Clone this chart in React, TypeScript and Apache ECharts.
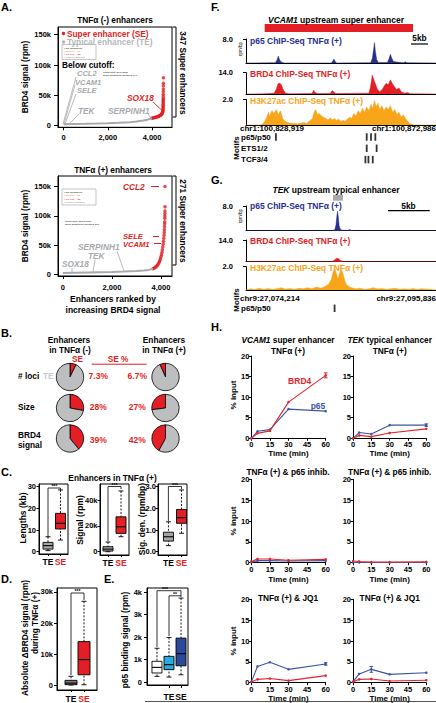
import React, { useEffect, useRef } from 'react';
import * as echarts from 'echarts';

const FONT = '"Liberation Sans", Arial, Helvetica, sans-serif';
const RED = '#e31e24';
const LIGHTGRAY = '#a7a9ac';
const PIEGRAY = '#bcbec0';
const TRACK_BLUE = '#262f8f';
const ORANGE = '#f9a51a';
const H_RED = '#e4232b';
const H_BLUE = '#3a55a4';
const E_LIGHT = '#29abe2';
const E_DARK = '#2b4a9b';

// ---------- Panel A : ranked enhancers ----------
const rankTicks = [0, 2000, 4000];
const brd4Ticks = [0, 50000, 100000, 150000];
const a1TypicalCurve = [[0, 2600], [500, 2900], [1000, 3200], [1500, 3600], [2000, 4100], [2500, 4800], [3000, 5900], [3300, 7000], [3600, 8500], [3800, 10000], [3985, 12400]];
const a1SuperPoints = [[3985, 12400], [4030, 12700], [4075, 13000], [4120, 13400], [4160, 13800], [4200, 14200], [4240, 14700], [4275, 15200], [4310, 15800], [4340, 16400], [4370, 17100], [4400, 17900], [4425, 18800], [4445, 19800], [4460, 21000], [4472, 22300], [4482, 23800], [4489, 25500], [4494, 27300], [4497, 29200], [4499, 31200], [4500, 33300], [4501, 35500], [4502, 37800], [4503, 40200], [4504, 42600], [4505, 45000], [4506, 48000], [4507, 52000], [4508, 56500], [4509, 60500], [4510, 66000], [4511, 70000], [4512, 79000]];
const a2TypicalCurve = [[0, 2800], [500, 3300], [1000, 3800], [1500, 4300], [2000, 4800], [2500, 5400], [3000, 6300], [3300, 7200], [3500, 8200], [3674, 10000]];
const a2SuperPoints = [[3674, 10000], [3715, 11000], [3756, 12200], [3797, 13600], [3838, 15300], [3870, 17000], [3900, 19000], [3930, 21500], [3955, 24000], [3978, 27000], [4000, 30500], [4020, 34000], [4040, 38000], [4058, 42500], [4075, 47000], [4090, 52000], [4103, 57000], [4114, 62000], [4124, 67000], [4132, 72000], [4139, 77000], [4145, 82000], [4150, 86500], [4154, 90000], [4157, 96000], [4159, 100000], [4161, 104000], [4162, 108500], [4163, 115500], [4164, 150000]];

// ---------- Panel B : pies ----------
const pieRowY = [377, 408, 438.5];
const sePctMinus = [7.3, 28, 39];
const sePctPlus = [6.7, 27, 42];

// ---------- Panel C / D / E : box plots [min, q1, median, q3, max] ----------
const teSe = ['TE', 'SE'];
const lengthStats = [[0.5, 1.2, 2.8, 4.3, 6.9], [5.4, 10.5, 13.1, 17.7, 28.5]];
const signalStats = [[0, 500, 2000, 3900, 7500], [11600, 14200, 19300, 27000, 47000]];
const densityStats = [[0.28, 0.49, 0.69, 0.9, 1.38], [0.85, 1.31, 1.57, 1.95, 2.85]];
const deltaStats = [[0, 100, 600, 1500, 2800], [100, 3300, 8200, 14000, 27000]];
const p65Cats = ['TSS', 'TE', 'SE'];
const p65Stats = [[250, 400, 650, 920, 1500], [220, 550, 770, 1140, 1980], [320, 720, 1260, 1950, 3730]];

// ---------- Panel F / G : tracks [kb, signal] ----------
const fRegionKb = 44.07;
const gRegionKb = 21.62;
const fP65 = [[0, 0], [6.8, 0.1], [7.2, 1.0], [7.5, 2.3], [7.8, 1.0], [8.3, 0.2], [9, 0], [19.8, 0], [20.1, 0.6], [20.4, 1.3], [20.7, 0.5], [21, 0], [28.9, 0.1], [29.3, 1.5], [29.6, 4.5], [29.8, 6.8], [30.0, 4.0], [30.3, 1.2], [30.7, 0.2], [32.8, 0.2], [33.2, 1.5], [33.5, 2.9], [33.8, 1.6], [34.2, 0.5], [35, 0.3], [36.5, 0.1], [37, 0.4], [37.3, 0.1], [44.07, 0]];
const fBrd4 = [[0, 0], [4, 0.1], [6.5, 0.5], [7, 3], [7.4, 6.5], [7.8, 7.2], [8.2, 6], [8.6, 3], [9.2, 0.5], [10, 0.2], [15.3, 0.3], [15.7, 2.5], [16, 1], [16.5, 0.3], [19.5, 0.3], [20, 2.3], [20.3, 1.5], [20.8, 0.3], [28.5, 0.5], [28.9, 5], [29.3, 12.5], [29.7, 9], [30.1, 6], [30.5, 3], [31, 1.5], [31.6, 3], [32, 5], [32.5, 7], [33, 6], [33.5, 9.3], [33.9, 7], [34.4, 5], [34.9, 3], [35.5, 4], [36, 1.5], [36.8, 0.5], [37.5, 1], [38, 0.2], [44.07, 0]];
const fH3k27ac = [[0, 0], [3.5, 0], [4.2, 0.2], [4.8, 0.6], [5.2, 1.0], [5.5, 0.7], [6, 1.1], [6.5, 0.9], [7, 1.2], [7.5, 0.8], [8, 1.1], [8.5, 0.5], [9, 0.3], [10, 0.15], [12, 0.1], [13.5, 0.2], [14, 0.1], [15.4, 0.5], [15.8, 1.0], [16.2, 1.2], [16.6, 0.8], [17, 0.9], [17.5, 0.7], [18, 0.6], [18.5, 0.5], [19, 0.4], [19.6, 0.55], [20, 0.4], [20.6, 0.5], [21, 0.35], [21.5, 0.45], [22, 0.3], [22.5, 0.35], [23, 0.3], [23.5, 0.45], [24, 0.6], [24.5, 0.5], [25, 0.9], [25.5, 0.7], [26, 1.1], [26.5, 0.9], [27, 1.3], [27.5, 1.0], [28, 1.4], [28.5, 1.1], [29, 1.6], [29.4, 1.3], [29.8, 1.9], [30.2, 1.4], [30.6, 1.7], [31, 1.2], [31.5, 1.5], [32, 1.1], [32.5, 1.4], [33, 1.2], [33.5, 1.5], [34, 1.0], [34.5, 1.2], [35, 0.8], [35.5, 1.0], [36, 0.6], [36.5, 0.8], [37, 0.5], [37.5, 0.3], [38, 0.1], [39, 0], [44.07, 0]];
const fMotifSites = [[6.94, 0], [28.0, 0], [29.0, 0], [30.0, 0], [28.0, 1], [30.3, 1], [27.7, 2], [28.4, 2], [29.4, 2]];
const gP65 = [[0, 0], [9.8, 0], [10.1, 0.3], [10.25, 2.0], [10.35, 5.0], [10.42, 6.3], [10.5, 4.5], [10.6, 1.5], [10.75, 0.4], [11, 0.15], [11.6, 0.1], [11.8, 0.4], [12, 0.1], [12.5, 0], [21.62, 0]];
const gBrd4 = [[0, 0], [9.6, 0], [9.9, 0.3], [10.1, 1.2], [10.3, 2.3], [10.5, 2.0], [10.7, 1.0], [11, 0.3], [11.4, 0], [21.62, 0]];
const gH3k27ac = [[0, 0], [0.5, 0.1], [1, 0.05], [1.5, 0.15], [2, 0.05], [2.5, 0.12], [3, 0.05], [3.5, 0.1], [4, 0.2], [4.5, 0.08], [5, 0.12], [5.5, 0.05], [6, 0.15], [6.5, 0.1], [7, 0.2], [7.5, 0.1], [8, 0.25], [8.5, 0.15], [9, 0.3], [9.4, 0.5], [9.7, 0.9], [9.9, 1.5], [10.1, 1.85], [10.3, 1.4], [10.45, 0.9], [10.6, 1.3], [10.8, 1.75], [11, 1.5], [11.2, 0.9], [11.4, 0.5], [11.7, 0.3], [12, 0.2], [12.5, 0.1], [13, 0.15], [13.5, 0.05], [14, 0.1], [14.5, 0.2], [15, 0.08], [15.5, 0.12], [16, 0.05], [16.5, 0.1], [17, 0.15], [17.5, 0.05], [18, 0.1], [18.5, 0.05], [19, 0.12], [19.5, 0.05], [20, 0.1], [21, 0.05], [21.62, 0]];
const gMotifSites = [[10.08, 0]];

// ---------- Panel H : ChIP-qPCR time courses (% input) ----------
const hTime = [0, 5, 15, 30, 60];
const timeTicks = [0, 15, 30, 45, 60];
const inputTicks = [0, 5, 10, 15, 20];
const vcamBrd4 = [0, 1.2, 1.8, 8.8, 15.3];
const vcamP65 = [0, 1.7, 2.1, 7.1, 6.6];
const tekBrd4 = [0, 0.7, 0.4, 1.3, 2.3];
const tekP65 = [0, 1.4, 1.05, 3.2, 3.2];
const vcamBrd4Inh = [0.3, 0.9, 0.9, 0.6, 0.8];
const vcamP65Inh = [0.1, 0.5, 0.5, 0.4, 0.5];
const tekBrd4Inh = [0.4, 0.3, 0.15, 0.15, 0.2];
const tekP65Inh = [0.05, 0.05, 0.05, 0.05, 0.05];
const vcamBrd4Jq1 = [0.2, 0.8, 1.0, 0.5, 1.7];
const vcamP65Jq1 = [0.2, 3.9, 4.9, 3.2, 4.5];
const tekBrd4Jq1 = [0.2, 0.8, 0.9, 0.4, 0.6];
const tekP65Jq1 = [0.2, 2.1, 3.2, 2.0, 2.4];
const vcamBrd4Err = [[60, 14.7, 15.9]];
const tekP65Err = [[60, 2.9, 3.5]];
const vcamP65Jq1Err = [[60, 4.2, 4.8]];
const tekP65Jq1Err = [[15, 2.5, 3.9]];

// ---------- helpers ----------
type TO = { size?: number; color?: string; align?: string; rot?: number; italic?: boolean; weight?: string; rich?: boolean };
function T(x: number, y: number, text: string, o: TO = {}) {
  const size = o.size ?? 8.3;
  const color = o.color ?? '#000';
  const align = o.align ?? 'left';
  const weight = o.weight ?? 'bold';
  const fstyle = o.italic ? 'italic' : 'normal';
  const style: any = {
    text, fill: color, fontSize: size, fontFamily: FONT, fontWeight: weight, fontStyle: fstyle,
    font: `${fstyle} ${weight} ${size}px ${FONT}`,
    align, verticalAlign: 'middle', textAlign: align, textVerticalAlign: 'middle',
  };
  if (o.rich) style.rich = { i: { fontStyle: 'italic', fontWeight: weight, fontSize: size, fontFamily: FONT, fill: color, color } };
  return { type: 'text', x, y, rotation: o.rot ?? 0, z: 100, silent: true, style };
}
function L(x1: number, y1: number, x2: number, y2: number, color = '#000', w = 1) {
  return { type: 'line', z: 100, silent: true, shape: { x1, y1, x2, y2 }, style: { stroke: color, lineWidth: w } };
}
function R(x: number, y: number, width: number, height: number, fill: string, stroke?: string, lw = 0.5) {
  return { type: 'rect', z: 99, silent: true, shape: { x, y, width, height }, style: { fill, stroke: stroke ?? 'none', lineWidth: lw } };
}
function C(cx: number, cy: number, r: number, fill: string) {
  return { type: 'circle', z: 100, silent: true, shape: { cx, cy, r }, style: { fill } };
}

function grid(left: number, top: number, width: number, height: number, frame = false) {
  return { left, top, width, height, show: frame, borderColor: '#000', borderWidth: 1, backgroundColor: 'rgba(0,0,0,0)', containLabel: false, outerBoundsMode: 'none' };
}
function ax(gridIndex: number, min: number, max: number, o: any = {}) {
  const ticks = o.ticks as number[] | undefined;
  return {
    type: 'value', gridIndex, min, max, inverse: !!o.inverse,
    axisLine: { show: o.line ?? true, onZero: false, lineStyle: { color: '#000', width: o.lw ?? 1 } },
    axisTick: ticks ? { show: true, customValues: ticks, length: o.tickLen ?? 3, inside: false, lineStyle: { color: '#000', width: 1 } } : { show: false },
    axisLabel: ticks && o.fmt ? { show: true, customValues: ticks, formatter: o.fmt, margin: o.margin ?? 3, color: '#000', fontFamily: FONT, fontWeight: 'bold', fontSize: o.fs ?? 7.5, rich: o.rich } : { show: false },
    splitLine: { show: false },
  };
}
const kFmt = (v: number) => (v === 0 ? '0' : `${v / 1000}k`);
const commaFmt = (v: number) => v.toLocaleString('en-US');
const d1 = (v: number) => v.toFixed(1);
const intFmt = (v: number) => String(v);
const teSeFmt = (v: number) => (v === 0 ? `{k|${teSe[0]}}` : `{r|${teSe[1]}}`);
const teSeRich = {
  k: { color: '#000', fontWeight: 'bold', fontSize: 8.5, fontFamily: FONT },
  r: { color: RED, fontWeight: 'bold', fontSize: 8.5, fontFamily: FONT },
};

function boxSeries(gridIndex: number, stats: number[][], colors: string[], halfW: number) {
  return {
    type: 'custom', xAxisIndex: gridIndex, yAxisIndex: gridIndex, silent: true,
    data: stats.map((s, i) => [i, ...s]),
    encode: { x: 0, y: [1, 2, 3, 4, 5] },
    renderItem: (params: any, api: any) => {
      const i = api.value(0);
      const pLo = api.coord([i, api.value(1)]);
      const pQ1 = api.coord([i, api.value(2)]);
      const pMd = api.coord([i, api.value(3)]);
      const pQ3 = api.coord([i, api.value(4)]);
      const pHi = api.coord([i, api.value(5)]);
      const cx = pLo[0];
      const st = { stroke: '#000', lineWidth: 0.9 };
      const dash = { stroke: '#000', lineWidth: 0.9, lineDash: [2, 1.5] };
      return {
        type: 'group',
        children: [
          { type: 'line', shape: { x1: cx, y1: pHi[1], x2: cx, y2: pQ3[1] }, style: dash },
          { type: 'line', shape: { x1: cx, y1: pLo[1], x2: cx, y2: pQ1[1] }, style: dash },
          { type: 'line', shape: { x1: cx - 2.5, y1: pHi[1], x2: cx + 2.5, y2: pHi[1] }, style: st },
          { type: 'line', shape: { x1: cx - 2.5, y1: pLo[1], x2: cx + 2.5, y2: pLo[1] }, style: st },
          { type: 'rect', shape: { x: cx - halfW, y: pQ3[1], width: 2 * halfW, height: Math.max(pQ1[1] - pQ3[1], 1) }, style: { fill: colors[params.dataIndex], stroke: '#000', lineWidth: 0.9 } },
          { type: 'line', shape: { x1: cx - halfW, y1: pMd[1], x2: cx + halfW, y2: pMd[1] }, style: { stroke: '#000', lineWidth: 1.1 } },
        ],
      };
    },
  };
}
function trackSeries(gridIndex: number, data: number[][], color: string) {
  return { type: 'line', xAxisIndex: gridIndex, yAxisIndex: gridIndex, data, symbol: 'none', showSymbol: false, silent: true, lineStyle: { color, width: 0.5 }, areaStyle: { color, opacity: 1 }, itemStyle: { color } };
}
function motifSeries(gridIndex: number, data: number[][]) {
  return { type: 'scatter', xAxisIndex: gridIndex, yAxisIndex: gridIndex, data, symbol: 'rect', symbolSize: [1.8, 7.5], itemStyle: { color: '#000' }, silent: true };
}
function hLine(gridIndex: number, values: number[], color: string) {
  return { type: 'line', xAxisIndex: gridIndex, yAxisIndex: gridIndex, data: hTime.map((t, i) => [t, values[i]]), symbol: 'circle', symbolSize: 2.5, showSymbol: true, silent: true, lineStyle: { color, width: 1.1 }, itemStyle: { color } };
}
function errSeries(gridIndex: number, data: number[][], color: string) {
  return {
    type: 'custom', xAxisIndex: gridIndex, yAxisIndex: gridIndex, data, silent: true, z: 5,
    encode: { x: 0, y: [1, 2] },
    renderItem: (_p: any, api: any) => {
      const a = api.coord([api.value(0), api.value(1)]);
      const b = api.coord([api.value(0), api.value(2)]);
      const s = { stroke: color, lineWidth: 1 };
      return {
        type: 'group',
        children: [
          { type: 'line', shape: { x1: a[0], y1: a[1], x2: b[0], y2: b[1] }, style: s },
          { type: 'line', shape: { x1: a[0] - 1.8, y1: a[1], x2: a[0] + 1.8, y2: a[1] }, style: s },
          { type: 'line', shape: { x1: b[0] - 1.8, y1: b[1], x2: b[0] + 1.8, y2: b[1] }, style: s },
        ],
      };
    },
  };
}
function pie(cx: number, cy: number, pct: number, clockwise: boolean) {
  return {
    type: 'pie', center: [cx, cy], radius: 13.7, startAngle: 90, clockwise, silent: true,
    label: { show: false }, labelLine: { show: false },
    itemStyle: { borderColor: '#000', borderWidth: 0.8 },
    data: [
      { value: pct, name: 'SE', itemStyle: { color: RED } },
      { value: 100 - pct, name: 'TE', itemStyle: { color: PIEGRAY } },
    ],
  };
}

function buildOption() {
  const grids = [
    grid(58, 27, 114, 100.3, true), // 0 A1
    grid(58, 176, 114, 100, true), // 1 A2
    grid(39, 484, 29, 70, true), // 2 C1
    grid(100, 484, 29, 71, true), // 3 C2
    grid(158, 484, 29, 71, true), // 4 C3
    grid(57, 588, 40, 102, true), // 5 D
    grid(147, 588, 41, 97, true), // 6 E
    grid(246, 39, 190, 24), // 7 F1
    grid(246, 72.7, 190, 21.3), // 8 F2
    grid(246, 99.3, 190, 25.7), // 9 F3
    grid(246, 131.35, 190, 33.9), // 10 F motifs
    grid(246, 206, 190, 24.7), // 11 G1
    grid(246, 240, 190, 21.7), // 12 G2
    grid(246, 266.7, 190, 23.3), // 13 G3
    grid(246, 303.3, 190, 10), // 14 G motifs
    grid(251.3, 356, 74.4, 82.3), // 15 H1
    grid(353, 356, 73.3, 82.3), // 16 H2
    grid(251.3, 479.3, 74.4, 83.4), // 17 H3
    grid(353, 479.3, 73.3, 83.4), // 18 H4
    grid(251.3, 599.3, 74.4, 83.4), // 19 H5
    grid(353, 599.3, 73.3, 83.4), // 20 H6
  ];

  const xAxis: any[] = [
    ax(0, -250, 4900, { ticks: rankTicks, fmt: commaFmt, margin: 6, tickLen: 3 }),
    ax(1, -200, 4450, { ticks: rankTicks, fmt: commaFmt, margin: 7, tickLen: 3 }),
    ax(2, -0.72, 1.6, { ticks: [0, 1], fmt: teSeFmt, rich: teSeRich, margin: 3, tickLen: 2 }),
    ax(3, -0.615, 1.615, { ticks: [0, 1], fmt: teSeFmt, rich: teSeRich, margin: 3, tickLen: 2 }),
    ax(4, -0.8, 1.42, { ticks: [0, 1], fmt: teSeFmt, rich: teSeRich, margin: 3, tickLen: 2 }),
    ax(5, -1.077, 2, { ticks: [0, 1], fmt: teSeFmt, rich: teSeRich, margin: 4, tickLen: 2 }),
    ax(6, -0.83, 2.58, { ticks: [0, 1, 2], fmt: (v: number) => p65Cats[v], margin: 7, tickLen: 3, fs: 8.5 }),
    ax(7, 0, fRegionKb, {}),
    ax(8, 0, fRegionKb, {}),
    ax(9, 0, fRegionKb, {}),
    ax(10, 0, fRegionKb, { line: false }),
    ax(11, 0, gRegionKb, {}),
    ax(12, 0, gRegionKb, {}),
    ax(13, 0, gRegionKb, {}),
    ax(14, 0, gRegionKb, { line: false }),
  ];
  for (let gi = 15; gi <= 20; gi++) xAxis.push(ax(gi, 0, 60, { ticks: timeTicks, fmt: intFmt, margin: 2.5, tickLen: 2.5 }));

  const yAxis: any[] = [
    ax(0, -2600, 162700, { ticks: brd4Ticks, fmt: kFmt, margin: 7, tickLen: 4 }),
    ax(1, -2200, 167900, { ticks: brd4Ticks, fmt: kFmt, margin: 7, tickLen: 4 }),
    ax(2, -1.06, 31.25, { ticks: [0, 10, 20, 30], fmt: intFmt, margin: 3, tickLen: 2.5 }),
    ax(3, -2550, 52400, { ticks: [0, 20000, 40000], fmt: kFmt, margin: 2.5, tickLen: 2.5 }),
    ax(4, -0.152, 3.125, { ticks: [0, 1, 2, 3], fmt: d1, margin: 2, tickLen: 2.5 }),
    ax(5, -1610, 31290, { ticks: [0, 10000, 20000, 30000], fmt: kFmt, margin: 4, tickLen: 3 }),
    ax(6, -133, 4178, { ticks: [0, 1000, 2000, 3000, 4000], fmt: kFmt, margin: 5, tickLen: 3 }),
    ax(7, 0, 8, { ticks: [8], fmt: d1, margin: 13, tickLen: 3 }),
    ax(8, 0, 14, { ticks: [14], fmt: d1, margin: 13, tickLen: 3 }),
    ax(9, 0, 2, { ticks: [2], fmt: d1, margin: 13, tickLen: 3 }),
    ax(10, -0.5, 2.5, { line: false, inverse: true }),
    ax(11, 0, 8, { ticks: [8], fmt: d1, margin: 13, tickLen: 3 }),
    ax(12, 0, 14, { ticks: [14], fmt: d1, margin: 13, tickLen: 3 }),
    ax(13, 0, 2, { ticks: [2], fmt: d1, margin: 13, tickLen: 3 }),
    ax(14, -0.5, 0.5, { line: false }),
  ];
  for (let gi = 15; gi <= 20; gi++) yAxis.push(ax(gi, 0, 20, { ticks: inputTicks, fmt: intFmt, margin: 2, tickLen: 2.5 }));

  const series: any[] = [
    // A
    { type: 'line', xAxisIndex: 0, yAxisIndex: 0, data: a1TypicalCurve, symbol: 'none', silent: true, lineStyle: { color: LIGHTGRAY, width: 2 } },
    { type: 'scatter', xAxisIndex: 0, yAxisIndex: 0, data: a1SuperPoints, symbolSize: 3.5, silent: true, itemStyle: { color: RED } },
    { type: 'line', xAxisIndex: 1, yAxisIndex: 1, data: a2TypicalCurve, symbol: 'none', silent: true, lineStyle: { color: LIGHTGRAY, width: 2 } },
    { type: 'scatter', xAxisIndex: 1, yAxisIndex: 1, data: a2SuperPoints, symbolSize: 3.5, silent: true, itemStyle: { color: RED } },
    // C, D, E
    boxSeries(2, lengthStats, ['#a6a6a6', RED], 5),
    boxSeries(3, signalStats, ['#a6a6a6', RED], 5),
    boxSeries(4, densityStats, ['#a6a6a6', RED], 5),
    boxSeries(5, deltaStats, ['#7a7a7a', RED], 6),
    boxSeries(6, p65Stats, ['#ffffff', E_LIGHT, E_DARK], 5),
    // F
    trackSeries(7, fP65, TRACK_BLUE),
    trackSeries(8, fBrd4, RED),
    trackSeries(9, fH3k27ac, ORANGE),
    motifSeries(10, fMotifSites),
    // G
    trackSeries(11, gP65, TRACK_BLUE),
    trackSeries(12, gBrd4, RED),
    trackSeries(13, gH3k27ac, ORANGE),
    motifSeries(14, gMotifSites),
    // H
    hLine(15, vcamP65, H_BLUE), hLine(15, vcamBrd4, H_RED), errSeries(15, vcamBrd4Err, H_RED),
    hLine(16, tekP65, H_BLUE), hLine(16, tekBrd4, H_RED), errSeries(16, tekP65Err, H_BLUE),
    hLine(17, vcamP65Inh, H_BLUE), hLine(17, vcamBrd4Inh, H_RED),
    hLine(18, tekP65Inh, H_BLUE), hLine(18, tekBrd4Inh, H_RED),
    hLine(19, vcamP65Jq1, H_BLUE), hLine(19, vcamBrd4Jq1, H_RED), errSeries(19, vcamP65Jq1Err, H_BLUE),
    hLine(20, tekP65Jq1, H_BLUE), hLine(20, tekBrd4Jq1, H_RED), errSeries(20, tekP65Jq1Err, H_BLUE),
  ];
  for (let r = 0; r < 3; r++) {
    series.push(pie(70, pieRowY[r], sePctMinus[r], true));
    series.push(pie(165.5, pieRowY[r], sePctPlus[r], false));
  }

  const gr: any[] = [];
  const up = -Math.PI / 2;
  const vert = Math.PI / 2;
  // panel letters
  gr.push(T(1, 7, 'A.', { size: 11 }), T(1, 333, 'B.', { size: 11 }), T(1, 472, 'C.', { size: 11 }), T(1, 579, 'D.', { size: 11 }), T(104, 579, 'E.', { size: 11 }), T(211, 7, 'F.', { size: 11 }), T(211, 180, 'G.', { size: 11 }), T(211, 327, 'H.', { size: 11 }));

  // ---- A top
  gr.push(T(115, 20, 'TNFα (-) enhancers', { align: 'center' }));
  gr.push(C(63.5, 33.5, 1.7, RED), T(67, 33.5, 'Super enhancer (SE)', { size: 8.3, color: RED }));
  gr.push(C(63.5, 42, 1.7, '#b5b7ba'), T(67, 42, 'Typical enhancer (TE)', { size: 8.3, color: '#b5b7ba' }));
  gr.push(R(62, 44.5, 34, 15, 'none', '#8a8a8a', 0.5));
  gr.push(T(64, 48.3, '• Not Considered', { size: 2.4, weight: 'normal' }), T(64, 51.3, '• 225 TNF - SE', { size: 2.4, weight: 'normal', color: '#f7941d' }), T(64, 54.3, '• 186 TNF + SE', { size: 2.4, weight: 'normal', color: RED }), T(64, 57.3, '• Typical enhancers', { size: 2.4, weight: 'normal', color: '#888' }));
  gr.push(T(62, 64.5, 'Below cutoff:', { size: 8.3 }));
  gr.push(T(103, 72.3, 'Cutoff used: 3670.3626', { size: 2.4, weight: 'normal' }), T(103, 75.2, 'Super Enhancers identified: 347', { size: 2.4, weight: 'normal' }));
  gr.push(T(77, 73.6, 'CCL2', { italic: true, color: LIGHTGRAY, size: 7.5 }), T(75, 82, 'VCAM1', { italic: true, color: LIGHTGRAY, size: 7.5 }), T(77, 90.7, 'SELE', { italic: true, color: LIGHTGRAY, size: 7.5 }));
  gr.push(T(78, 110.5, 'TEK', { italic: true, color: LIGHTGRAY }), T(108, 110.5, 'SERPINH1', { italic: true, color: LIGHTGRAY }), T(127, 98, 'SOX18', { italic: true, color: RED }));
  gr.push(L(76, 77, 63, 124, LIGHTGRAY, 0.8), L(75, 85, 64, 124, LIGHTGRAY, 0.8), L(76, 94, 65, 124, LIGHTGRAY, 0.8), L(79, 114, 69, 124, LIGHTGRAY, 0.8), L(148, 114, 152, 120, LIGHTGRAY, 0.8), L(153, 102, 161, 109.5, RED, 0.9));
  gr.push(L(172.5, 27, 176, 27), L(176, 27, 176, 117), L(172.5, 117, 176, 117));
  gr.push(T(183, 73, '347 Super enhancers', { align: 'center', rot: up }));
  gr.push(T(25, 77, 'BRD4 signal (rpm)', { align: 'center', rot: vert }));

  // ---- A bottom
  gr.push(T(113, 170, 'TNFα (+) enhancers', { align: 'center' }));
  gr.push(R(62, 189, 34, 16, 'none', '#8a8a8a', 0.5));
  gr.push(T(64, 192.5, '• Not Considered', { size: 2.4, weight: 'normal' }), T(64, 195.8, '• 225 TNF - SE', { size: 2.4, weight: 'normal', color: '#f7941d' }), T(64, 199.1, '• 186 TNF + SE', { size: 2.4, weight: 'normal', color: RED }), T(64, 202.4, '• Typical enhancers', { size: 2.4, weight: 'normal', color: '#888' }));
  gr.push(T(65, 221, 'Cutoff used: 11613.8958', { size: 2.4, weight: 'normal' }), T(65, 224.3, 'Super Enhancers identified: 271', { size: 2.4, weight: 'normal' }));
  gr.push(T(123, 186.5, 'CCL2', { italic: true, color: RED }), L(151, 186.5, 159, 186.5, RED, 1));
  gr.push(T(123, 236, 'SELE', { italic: true, color: RED, size: 7.6 }), L(153, 236.5, 159, 236.5, RED, 1));
  gr.push(T(123, 244.5, 'VCAM1', { italic: true, color: RED, size: 7.6 }), L(154, 243.5, 161, 243.5, RED, 1));
  gr.push(T(78, 247, 'SERPINH1', { italic: true, color: LIGHTGRAY }), T(88, 255.5, 'TEK', { italic: true, color: LIGHTGRAY }), T(62, 264, 'SOX18', { italic: true, color: LIGHTGRAY }));
  gr.push(L(117, 251, 124, 271, LIGHTGRAY, 0.8), L(95, 259.5, 93, 272, LIGHTGRAY, 0.8), L(72, 268, 72, 272, LIGHTGRAY, 0.8));
  gr.push(L(172.5, 176, 176, 176), L(176, 176, 176, 265), L(172.5, 265, 176, 265));
  gr.push(T(183, 221, '271 Super enhancers', { align: 'center', rot: up }));
  gr.push(T(25, 226, 'BRD4 signal (rpm)', { align: 'center', rot: vert }));
  gr.push(T(113, 298.5, 'Enhancers ranked by', { align: 'center', size: 8.5 }), T(113, 309.5, 'increasing BRD4 signal', { align: 'center', size: 8.5 }));

  // ---- B
  gr.push(T(69, 340.3, 'Enhancers', { align: 'center' }), T(70, 349.8, 'in TNFα (-)', { align: 'center' }));
  gr.push(T(164, 340.3, 'Enhancers', { align: 'center' }), T(164, 349.8, 'in TNFα (+)', { align: 'center' }));
  gr.push(T(77.5, 358.8, 'SE', { align: 'center', color: RED }));
  gr.push(T(118, 359, 'SE %', { align: 'center', color: RED }), L(91.7, 364.2, 146.7, 364.2, RED, 1));
  gr.push(T(18, 375.5, '# loci'), T(43, 375.5, 'TE', { color: '#c9cacc' }));
  gr.push(T(18, 407, 'Size'), T(18, 435, 'BRD4'), T(18, 444.5, 'signal'));
  const pctRowY = [375.5, 407, 440];
  for (let r = 0; r < 3; r++) {
    gr.push(T(98.3, pctRowY[r], `${sePctMinus[r]}%`, { align: 'center', color: RED, size: 8.5 }));
    gr.push(T(137.3, pctRowY[r], `${sePctPlus[r]}%`, { align: 'center', color: RED, size: 8.5 }));
  }

  // ---- C
  gr.push(T(112.5, 478, 'Enhancers in TNFα (+)', { align: 'center' }));
  gr.push(T(22.5, 518, 'Lengths (kb)', { align: 'center', rot: vert, size: 8.5 }), T(80, 520, 'Signal (rpm)', { align: 'center', rot: vert, size: 8.5 }), T(141.7, 519, 'Sig. den. (rpm/bp)', { align: 'center', rot: vert, size: 8.5 }));
  gr.push(L(48, 537, 48, 488, '#000', 0.8), L(48, 488, 60.5, 488, '#000', 0.8), L(60.5, 488, 60.5, 490, '#000', 0.8), T(54.3, 486.3, '***', { align: 'center', size: 5 }));
  gr.push(L(108, 541, 108, 486.5, '#000', 0.8), L(108, 486.5, 121, 486.5, '#000', 0.8), L(121, 486.5, 121, 489, '#000', 0.8), T(114.5, 484.8, '***', { align: 'center', size: 5 }));
  gr.push(L(168.4, 521, 168.4, 486.5, '#000', 0.8), L(168.4, 486.5, 181.5, 486.5, '#000', 0.8), L(181.5, 486.5, 181.5, 489, '#000', 0.8), T(175, 484.8, '***', { align: 'center', size: 5 }));

  // ---- D
  gr.push(T(25, 638, 'Absolute ΔBRD4 signal (rpm)', { align: 'center', rot: vert, size: 8.3 }), T(35, 623, 'during TNFα (+)', { align: 'center', rot: vert, size: 8.3 }));
  gr.push(L(71, 675, 71, 593, '#000', 0.8), L(71, 593, 84, 593, '#000', 0.8), L(84, 593, 84, 600, '#000', 0.8), T(77.5, 591.3, '***', { align: 'center', size: 5 }));

  // ---- E
  gr.push(T(125, 640, 'p65 binding signal (rpm)', { align: 'center', rot: vert, size: 8.3 }));
  gr.push(L(157, 647, 157, 590.7, '#000', 0.8), L(157, 590.7, 181, 590.7, '#000', 0.8), L(181, 590.7, 181, 597, '#000', 0.8), T(165, 589, '***', { align: 'center', size: 5 }));
  gr.push(L(169, 636, 169, 595.8, '#000', 0.8), L(169, 595.8, 181, 595.8, '#000', 0.8), T(175, 594.2, '**', { align: 'center', size: 5 }));
  gr.push(L(145, 701.5, 436, 701.5, '#555', 1));

  // ---- F
  gr.push(T(336, 20, '{i|VCAM1} upstream super enhancer', { align: 'center', rich: true, size: 8.5 }));
  gr.push(R(264.7, 24, 148.3, 8, RED));
  gr.push(T(419.5, 38, '5kb', { align: 'center' }), L(411, 44, 428, 44, '#000', 1.2));
  gr.push(T(240.5, 49, 'rpm/bp', { align: 'center', rot: vert, size: 4.5, weight: 'normal' }));
  gr.push(T(250, 41, 'p65 ChIP-Seq TNFα (+)', { color: TRACK_BLUE, size: 8.5 }), T(250, 73.5, 'BRD4 ChIP-Seq TNFα (+)', { color: RED, size: 8.5 }), T(250, 101, 'H3K27ac ChIP-Seq TNFα (+)', { color: ORANGE, size: 8.5 }));
  gr.push(T(240, 128.5, 'chr1:100,828,919', { size: 8 }), T(436, 128.5, 'chr1:100,872,986', { size: 8, align: 'right' }));
  gr.push(T(236, 148, 'Motifs', { align: 'center', rot: vert, size: 8 }));
  gr.push(T(241, 137, 'p65/p50', { size: 8 }), T(241, 148.3, 'ETS1/2', { size: 8 }), T(241, 159.6, 'TCF3/4', { size: 8 }));

  // ---- G
  gr.push(T(336, 190, '{i|TEK} upstream typical enhancer', { align: 'center', rich: true, size: 8.5 }));
  gr.push(R(333, 195, 10, 5.7, LIGHTGRAY));
  gr.push(T(408.5, 206, '5kb', { align: 'center' }), L(388, 210.7, 429.7, 210.7, '#000', 1.2));
  gr.push(T(240.5, 216, 'rpm/bp', { align: 'center', rot: vert, size: 4.5, weight: 'normal' }));
  gr.push(T(250, 206, 'p65 ChIP-Seq TNFα (+)', { color: TRACK_BLUE, size: 8.5 }), T(250, 240.5, 'BRD4 ChIP-Seq TNFα (+)', { color: RED, size: 8.5 }), T(250, 267.5, 'H3K27ac ChIP-Seq TNFα (+)', { color: ORANGE, size: 8.5 }));
  gr.push(T(240, 298.3, 'chr9:27,074,214', { size: 8 }), T(436, 298.3, 'chr9:27,095,836', { size: 8, align: 'right' }));
  gr.push(T(236, 300, 'Motifs', { align: 'center', rot: vert, size: 8 }));
  gr.push(T(241, 308.3, 'p65/p50', { size: 8 }));

  // ---- H
  gr.push(T(288, 340, '{i|VCAM1} super enhancer', { align: 'center', rich: true }), T(288, 351, 'TNFα (+)', { align: 'center' }));
  gr.push(T(389.7, 340, '{i|TEK} typical enhancer', { align: 'center', rich: true }), T(389.7, 351, 'TNFα (+)', { align: 'center' }));
  gr.push(T(299.7, 381, 'BRD4', { align: 'center', color: H_RED, size: 8.5 }), T(318, 406, 'p65', { align: 'center', color: H_BLUE, size: 8.5 }));
  gr.push(T(288, 471.7, 'TNFα (+) & p65 inhib.', { align: 'center' }), T(389.7, 471.7, 'TNFα (+) & p65 inhib.', { align: 'center' }));
  gr.push(T(288, 597.7, 'TNFα (+) & JQ1', { align: 'center' }), T(389.7, 597.7, 'TNFα (+) & JQ1', { align: 'center' }));
  const timeY = [453.7, 579, 698.3];
  for (const ty of timeY) gr.push(T(288.5, ty, 'Time (min)', { align: 'center', size: 8 }), T(389.7, ty, 'Time (min)', { align: 'center', size: 8 }));
  gr.push(T(233, 395, '% input', { align: 'center', rot: vert, size: 8 }), T(233, 521, '% input', { align: 'center', rot: vert, size: 8 }), T(233, 641, '% input', { align: 'center', rot: vert, size: 8 }));

  return {
    animation: false,
    backgroundColor: '#ffffff',
    textStyle: { fontFamily: FONT },
    grid: grids,
    xAxis,
    yAxis,
    series,
    graphic: { elements: gr },
  };
}

export default function App() {
  const ref = useRef<HTMLDivElement>(null);
  useEffect(() => {
    if (!ref.current) return;
    const chart = echarts.init(ref.current, null, { renderer: 'svg' });
    chart.setOption(buildOption() as any);
    return () => chart.dispose();
  }, []);
  return <div ref={ref} style={{ position: 'absolute', left: 0, top: 0, width: 436, height: 703, background: '#fff' }} />;
}
